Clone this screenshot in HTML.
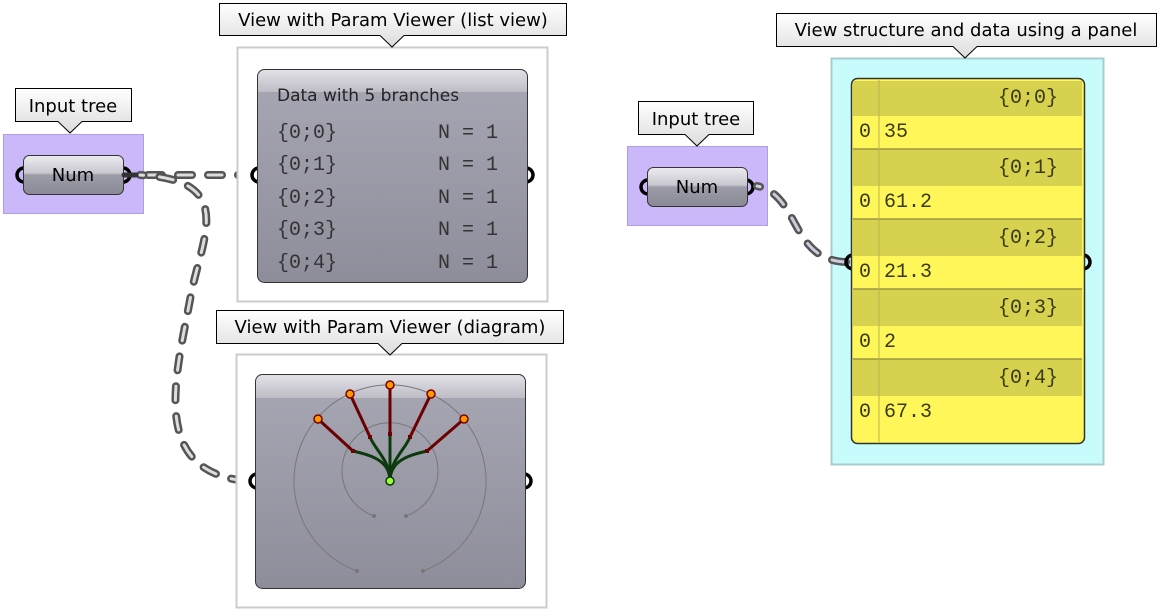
<!DOCTYPE html>
<html><head><meta charset="utf-8"><style>
body{margin:0;background:#fff;}
svg{display:block;}
text{font-family:"DejaVu Sans","Liberation Sans",sans-serif;}
.mono text{font-family:"Liberation Mono",monospace;}
</style></head><body>
<svg width="1163" height="614" viewBox="0 0 1163 614" xmlns="http://www.w3.org/2000/svg">
<defs>
<linearGradient id="cg" x1="0" y1="0" x2="0" y2="1">
<stop offset="0" stop-color="#a8a7b4"/><stop offset="1" stop-color="#8e8d9a"/></linearGradient>
<linearGradient id="hg" x1="0" y1="0" x2="0" y2="1">
<stop offset="0" stop-color="#f0f0f4"/><stop offset="1" stop-color="#c4c3cc"/></linearGradient>
<linearGradient id="ng" x1="0" y1="0" x2="0" y2="1">
<stop offset="0" stop-color="#ececf0"/><stop offset="0.45" stop-color="#c8c7d0"/><stop offset="0.5" stop-color="#9c9ba8"/><stop offset="1" stop-color="#8a8996"/></linearGradient>
<linearGradient id="tg" x1="0" y1="0" x2="0" y2="1">
<stop offset="0" stop-color="#ffffff"/><stop offset="1" stop-color="#dcdcdc"/></linearGradient>
</defs>

<rect x="3.5" y="134.5" width="140" height="79" fill="#cbb8fb" stroke="#b09ee0"/>
<path d="M15.5 88.5 H131.5 V121.5 H82 L70 133 L58 121.5 H15.5 Z" fill="url(#tg)" stroke="#000"/>
<text x="73" y="112" font-size="18" text-anchor="middle">Input tree</text>
<path d="M24 168 a7 7 0 0 0 0 14" fill="none" stroke="#000" stroke-width="3.5"/>
<path d="M123 168 a7 7 0 0 1 0 14" fill="none" stroke="#000" stroke-width="3.5"/>
<rect x="23.5" y="155.5" width="100" height="39" rx="6" fill="url(#ng)" stroke="#333"/>
<text x="73" y="181" font-size="18" text-anchor="middle">Num</text>

<g fill="none" stroke-linecap="round">
<path d="M252 175 H140" stroke="#555" stroke-width="8" stroke-dasharray="14 16"/>
<path d="M252 175 H140" stroke="#ddd" stroke-width="3" stroke-dasharray="14 16"/>
<path d="M245 481 C150 470 175 380 190 300 C200 240 240 180 140 175" stroke="#555" stroke-width="8" stroke-dasharray="14 16"/>
<path d="M245 481 C150 470 175 380 190 300 C200 240 240 180 140 175" stroke="#ddd" stroke-width="3" stroke-dasharray="14 16"/>
<path d="M124 175 H136" stroke="#333" stroke-width="5"/>
</g>

<rect x="237.5" y="47.5" width="310" height="254" fill="#fff" stroke="#ccc" stroke-width="2"/>
<path d="M219.5 3.5 H566.5 V35.5 H404 L392 47 L380 35.5 H219.5 Z" fill="url(#tg)" stroke="#000"/>
<text x="393" y="26" font-size="18" text-anchor="middle">View with Param Viewer (list view)</text>
<path d="M259 168 a7 7 0 0 0 0 14" fill="none" stroke="#000" stroke-width="3.5"/>
<path d="M526 168 a7 7 0 0 1 0 14" fill="none" stroke="#000" stroke-width="3.5"/>
<rect x="257.5" y="69.5" width="270" height="213" rx="7" fill="url(#cg)" stroke="#333"/>
<path d="M258 92 V77 a7 7 0 0 1 7 -7 H520 a7 7 0 0 1 7 7 V92 Z" fill="url(#hg)" opacity="0.8"/>
<text x="277" y="101" font-size="17" fill="#222">Data with 5 branches</text>
<g class="mono" font-size="20" fill="#333">
<text x="277" y="138">{0;0}</text><text x="438" y="138">N = 1</text>
<text x="277" y="170">{0;1}</text><text x="438" y="170">N = 1</text>
<text x="277" y="203">{0;2}</text><text x="438" y="203">N = 1</text>
<text x="277" y="235">{0;3}</text><text x="438" y="235">N = 1</text>
<text x="277" y="268">{0;4}</text><text x="438" y="268">N = 1</text>
</g>

<rect x="236.5" y="354.5" width="310" height="253" fill="#fff" stroke="#ccc" stroke-width="2"/>
<path d="M216.5 310.5 H563.5 V343.5 H402 L390 355 L378 343.5 H216.5 Z" fill="url(#tg)" stroke="#000"/>
<text x="390" y="333" font-size="18" text-anchor="middle">View with Param Viewer (diagram)</text>
<path d="M257 474 a7 7 0 0 0 0 14" fill="none" stroke="#000" stroke-width="3.5"/>
<path d="M524 474 a7 7 0 0 1 0 14" fill="none" stroke="#000" stroke-width="3.5"/>
<rect x="255.5" y="374.5" width="270" height="214" rx="7" fill="url(#cg)" stroke="#333"/>
<path d="M256 398 V382 a7 7 0 0 1 7 -7 H518 a7 7 0 0 1 7 7 V398 Z" fill="url(#hg)" opacity="0.8"/>
<g fill="none" stroke="#777" stroke-width="1">
<path d="M357 571 A96 96 0 1 1 423 571"/>
<path d="M374 516 A48 48 0 1 1 406 516"/>
</g>
<g fill="#777"><circle cx="357" cy="571" r="2"/><circle cx="423" cy="571" r="2"/><circle cx="374" cy="516" r="2"/><circle cx="406" cy="516" r="2"/></g>
<g fill="none" stroke="#0c3a0c" stroke-width="3">
<path d="M390 481 C390 460 370 455 353 451"/>
<path d="M390 481 C390 460 375 450 370 437"/>
<path d="M390 481 V434"/>
<path d="M390 481 C390 460 405 450 410 437"/>
<path d="M390 481 C390 460 410 455 427 451"/>
</g>
<g stroke="#6a0000" stroke-width="3">
<line x1="353" y1="451" x2="318" y2="419"/><line x1="370" y1="437" x2="350" y2="394"/>
<line x1="390" y1="434" x2="390" y2="385"/><line x1="410" y1="437" x2="431" y2="394"/>
<line x1="427" y1="451" x2="464" y2="419"/>
</g>
<g fill="#6a0000"><rect x="351" y="449" width="4" height="4"/><rect x="368" y="435" width="4" height="4"/><rect x="388" y="432" width="4" height="4"/><rect x="408" y="435" width="4" height="4"/><rect x="425" y="449" width="4" height="4"/></g>
<g fill="#ff9900" stroke="#7a0000" stroke-width="1.5">
<circle cx="318" cy="419" r="4"/><circle cx="350" cy="394" r="4"/><circle cx="390" cy="385" r="4"/><circle cx="431" cy="394" r="4"/><circle cx="464" cy="419" r="4"/>
</g>
<circle cx="390" cy="481" r="4" fill="#9cff3a" stroke="#0c3a0c" stroke-width="1.5"/>

<rect x="627.5" y="146.5" width="140" height="79" fill="#cbb8fb" stroke="#b09ee0"/>
<path d="M638.5 101.5 H753.5 V134.5 H709 L697 146 L685 134.5 H638.5 Z" fill="url(#tg)" stroke="#000"/>
<text x="696" y="125" font-size="18" text-anchor="middle">Input tree</text>
<path d="M648 180 a7 7 0 0 0 0 14" fill="none" stroke="#000" stroke-width="3.5"/>
<path d="M746 180 a7 7 0 0 1 0 14" fill="none" stroke="#000" stroke-width="3.5"/>
<rect x="647.5" y="167.5" width="100" height="39" rx="6" fill="url(#ng)" stroke="#333"/>
<text x="697" y="193" font-size="18" text-anchor="middle">Num</text>

<rect x="831.5" y="58.5" width="272" height="406" fill="#c8fcfc" stroke="#a8cccc" stroke-width="2"/>
<path d="M776.5 13.5 H1156.5 V46.5 H977 L965 58 L953 46.5 H776.5 Z" fill="url(#tg)" stroke="#000"/>
<text x="966" y="36" font-size="18" text-anchor="middle">View structure and data using a panel</text>
<g fill="none" stroke-linecap="round">
<path d="M846 262 C790 260 800 195 757 186" stroke="#555" stroke-width="8" stroke-dasharray="14 16"/>
<path d="M846 262 C790 260 800 195 757 186" stroke="#ccd" stroke-width="3" stroke-dasharray="14 16"/>
</g>
<path d="M853 255 a7 7 0 0 0 0 14" fill="none" stroke="#000" stroke-width="3.5"/>
<path d="M1083 255 a7 7 0 0 1 0 14" fill="none" stroke="#000" stroke-width="3.5"/>
<rect x="851.5" y="78.5" width="233" height="365" rx="6" fill="#fff75a" stroke="#333" stroke-width="1.5"/>
<g fill="#d6d250">
<rect x="853" y="81" width="229" height="35"/>
<rect x="853" y="149" width="229" height="37"/>
<rect x="853" y="219" width="229" height="37"/>
<rect x="853" y="289" width="229" height="37"/>
<rect x="853" y="359" width="229" height="37"/>
</g>
<g stroke="#9a9640" stroke-width="1.5">
<line x1="853" y1="149" x2="1082" y2="149"/><line x1="853" y1="219" x2="1082" y2="219"/>
<line x1="853" y1="289" x2="1082" y2="289"/><line x1="853" y1="359" x2="1082" y2="359"/>
</g>
<line x1="879" y1="80" x2="879" y2="442" stroke="#b8b450" stroke-width="1"/>
<g class="mono" font-size="20" fill="#3a3a10">
<text x="1058" y="103" text-anchor="end">{0;0}</text>
<text x="1058" y="173" text-anchor="end">{0;1}</text>
<text x="1058" y="243" text-anchor="end">{0;2}</text>
<text x="1058" y="313" text-anchor="end">{0;3}</text>
<text x="1058" y="383" text-anchor="end">{0;4}</text>
<text x="859" y="137">0</text><text x="884" y="137">35</text>
<text x="859" y="207">0</text><text x="884" y="207">61.2</text>
<text x="859" y="277">0</text><text x="884" y="277">21.3</text>
<text x="859" y="347">0</text><text x="884" y="347">2</text>
<text x="859" y="417">0</text><text x="884" y="417">67.3</text>
</g>
</svg>
</body></html>
